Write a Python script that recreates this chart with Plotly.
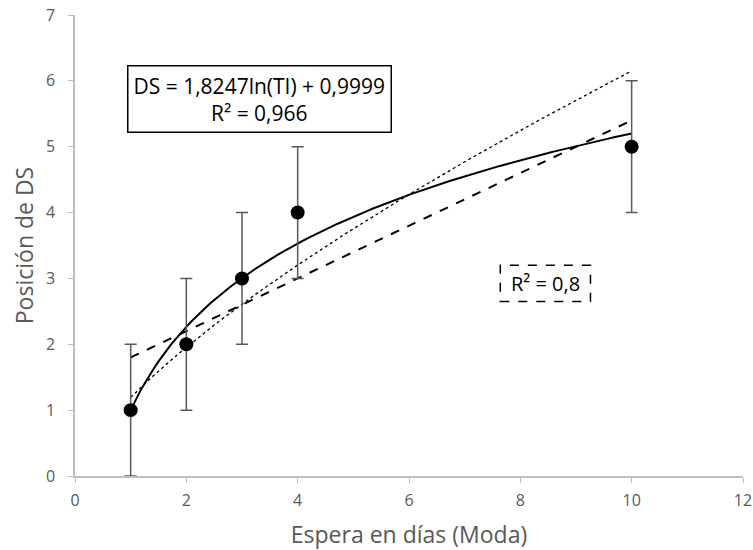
import numpy as np
import plotly.graph_objects as go

# Data
espera = [1, 2, 3, 4, 10]
posicion = [1, 2, 3, 4, 5]
error = [1, 1, 1, 1, 1]
x_ticks = [0, 2, 4, 6, 8, 10, 12]
y_ticks = [0, 1, 2, 3, 4, 5, 6, 7]

x = np.array(espera, dtype=float)
y = np.array(posicion, dtype=float)
xs = np.linspace(x.min(), x.max(), 200)

# Trend lines fitted from data
b_log, a_log = np.polyfit(np.log(x), y, 1)
y_log = b_log * np.log(xs) + a_log
m_lin, c_lin = np.polyfit(x, y, 1)
y_lin = m_lin * xs + c_lin
b_pow, lna = np.polyfit(np.log(x), np.log(y), 1)
y_pow = np.exp(lna) * xs ** b_pow

fig = go.Figure()
fig.add_trace(go.Scatter(x=xs, y=y_pow, mode="lines",
                         line=dict(color="black", width=1.3, dash="dot"), showlegend=False))
fig.add_trace(go.Scatter(x=xs, y=y_lin, mode="lines",
                         line=dict(color="black", width=2, dash="dash"), showlegend=False))
fig.add_trace(go.Scatter(x=xs, y=y_log, mode="lines",
                         line=dict(color="black", width=2), showlegend=False))
fig.add_trace(go.Scatter(x=espera, y=posicion, mode="markers",
                         marker=dict(color="black", size=14),
                         error_y=dict(type="data", array=error, color="#595959",
                                      thickness=1.5, width=6),
                         showlegend=False))

font_fam = "Open Sans, Liberation Sans, sans-serif"
fig.add_annotation(x=3.32, y=5.72, xref="x", yref="y",
                   text="DS = 1,8247ln(TI) + 0,9999<br>R² = 0,966",
                   showarrow=False, font=dict(size=21, color="black", family=font_fam),
                   bordercolor="black", borderwidth=1.5, borderpad=5, bgcolor="white")
fig.add_annotation(x=8.45, y=2.92, xref="x", yref="y", text="R² = 0,8",
                   showarrow=False, font=dict(size=20, color="black", family=font_fam))
fig.add_shape(type="rect", xref="x", yref="y", x0=7.64, x1=9.26, y0=2.65, y1=3.20,
              line=dict(color="black", width=1.5, dash="dash"))

axis_common = dict(showgrid=False, zeroline=False, showline=True, linecolor="#bfbfbf",
                   linewidth=1.5, ticks="outside", tickcolor="#bfbfbf", ticklen=5,
                   automargin=False,
                   tickfont=dict(size=16, color="#595959", family=font_fam))
fig.update_xaxes(range=[0, 12], tickvals=x_ticks, ticklabelstandoff=4,
                 title=dict(text="Espera en días (Moda)", standoff=33,
                            font=dict(size=23, color="#595959", family=font_fam)),
                 **axis_common)
fig.update_yaxes(range=[0, 7], tickvals=y_ticks, ticklabelstandoff=10,
                 title=dict(text="Posición de DS", standoff=6,
                            font=dict(size=23, color="#595959", family=font_fam)),
                 **axis_common)
fig.update_layout(width=753, height=550, margin=dict(l=75, r=10, t=15, b=74),
                  plot_bgcolor="white", paper_bgcolor="white")
fig.write_html("out.html")
